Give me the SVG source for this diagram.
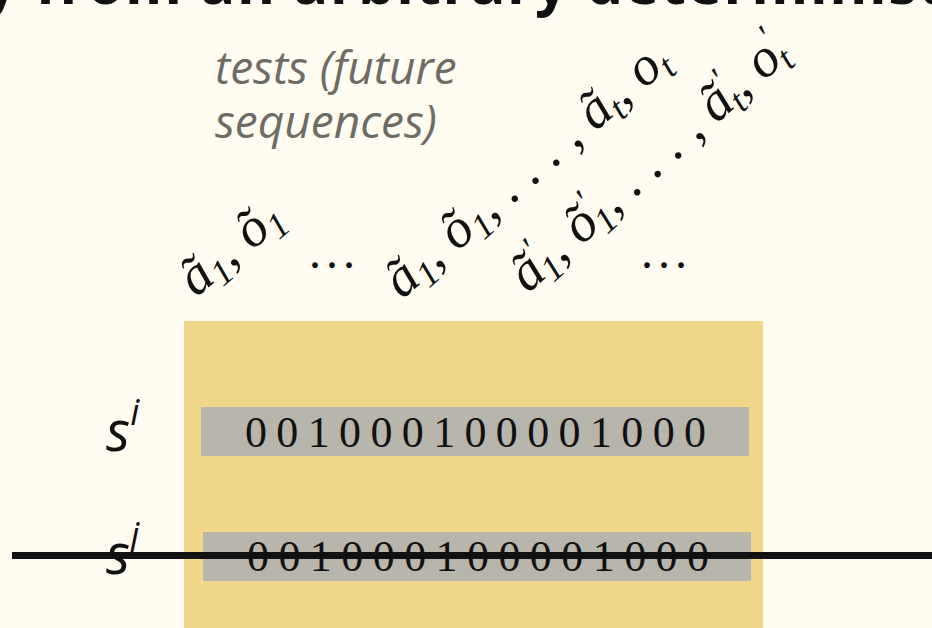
<svg xmlns="http://www.w3.org/2000/svg" width="932" height="628" viewBox="0 0 932 628">
<style>
.title{font-family:"Open Sans","Liberation Sans",sans-serif;font-weight:bold;font-size:58px;fill:#111}
.note{font-family:"Open Sans","Liberation Sans",sans-serif;font-style:italic;font-size:46px;fill:#6e6b64}
.math{font-family:"Liberation Serif","DejaVu Serif",serif;font-style:italic;font-size:55px;fill:#111}
.sub{font-size:36px}
.dots{font-family:"Liberation Serif","DejaVu Serif",serif;font-size:48px;letter-spacing:-3.5px;fill:#111}
.bits{font-family:"Liberation Serif","DejaVu Serif",serif;font-size:44px;fill:#111}
.var{font-family:"Open Sans","Liberation Sans",sans-serif;font-style:italic;font-size:56px;fill:#111}
.sup{font-size:36px}
.bar{fill:#b8b5ad}
</style>
<rect width="932" height="628" fill="#fffdf1"/>
<g id="title"><text class="title" x="-16" y="4" textLength="960">y from an arbitrary determinist</text></g>
<g id="tests-label"><text class="note" x="215" y="84">tests (future</text><text class="note" x="215" y="138">sequences)</text></g>
<g id="seq1"><text class="math" transform="translate(196,298) rotate(-40)">ã<tspan class="sub" dy="9">1</tspan><tspan dy="-9">, õ</tspan><tspan class="sub" dy="9">1</tspan></text></g>
<g id="dots1"><text class="dots" x="309" y="268">. . .</text></g>
<g id="seq2"><text class="math" transform="translate(402,300) rotate(-41)">ã<tspan class="sub" dy="9">1</tspan><tspan dy="-9">, õ</tspan><tspan class="sub" dy="9">1</tspan><tspan dy="-9">, . . . , ã</tspan><tspan class="sub" dy="9">t</tspan><tspan dy="-9">, o</tspan><tspan class="sub" dy="9">t</tspan></text></g>
<g id="seq3"><text class="math" transform="translate(528,294) rotate(-42)">ã<tspan class="sub" dy="-20">′</tspan><tspan class="sub" dx="-9" dy="29">1</tspan><tspan dy="-9">, õ</tspan><tspan class="sub" dy="-20">′</tspan><tspan class="sub" dx="-9" dy="29">1</tspan><tspan dy="-9">, . . . , ã</tspan><tspan class="sub" dy="-20">′</tspan><tspan class="sub" dx="-9" dy="29">t</tspan><tspan dy="-9">, o</tspan><tspan class="sub" dy="-20">′</tspan><tspan class="sub" dx="-9" dy="29">t</tspan></text></g>
<g id="dots2"><text class="dots" x="641" y="268">. . .</text></g>
<g id="panel"><rect x="184" y="321" width="579" height="307" fill="#f2d68a"/></g>
<g id="row-i">
<text class="var" x="106" y="451">s<tspan class="sup" dy="-26">i</tspan></text>
<rect class="bar" x="201" y="407" width="548" height="49"/>
<text class="bits" x="245" y="447" textLength="461">0 0 1 0 0 0 1 0 0 0 0 1 0 0 0</text>
</g>
<g id="row-j">
<text class="var" x="106" y="574">s<tspan class="sup" dy="-26">j</tspan></text>
<rect class="bar" x="203" y="532" width="548" height="49"/>
<text class="bits" x="247" y="571" textLength="462">0 0 1 0 0 0 1 0 0 0 0 1 0 0 0</text>
</g>
<g id="connectors"><line x1="12" y1="555.5" x2="932" y2="555.5" stroke="#111" stroke-width="7"/></g>
</svg>
